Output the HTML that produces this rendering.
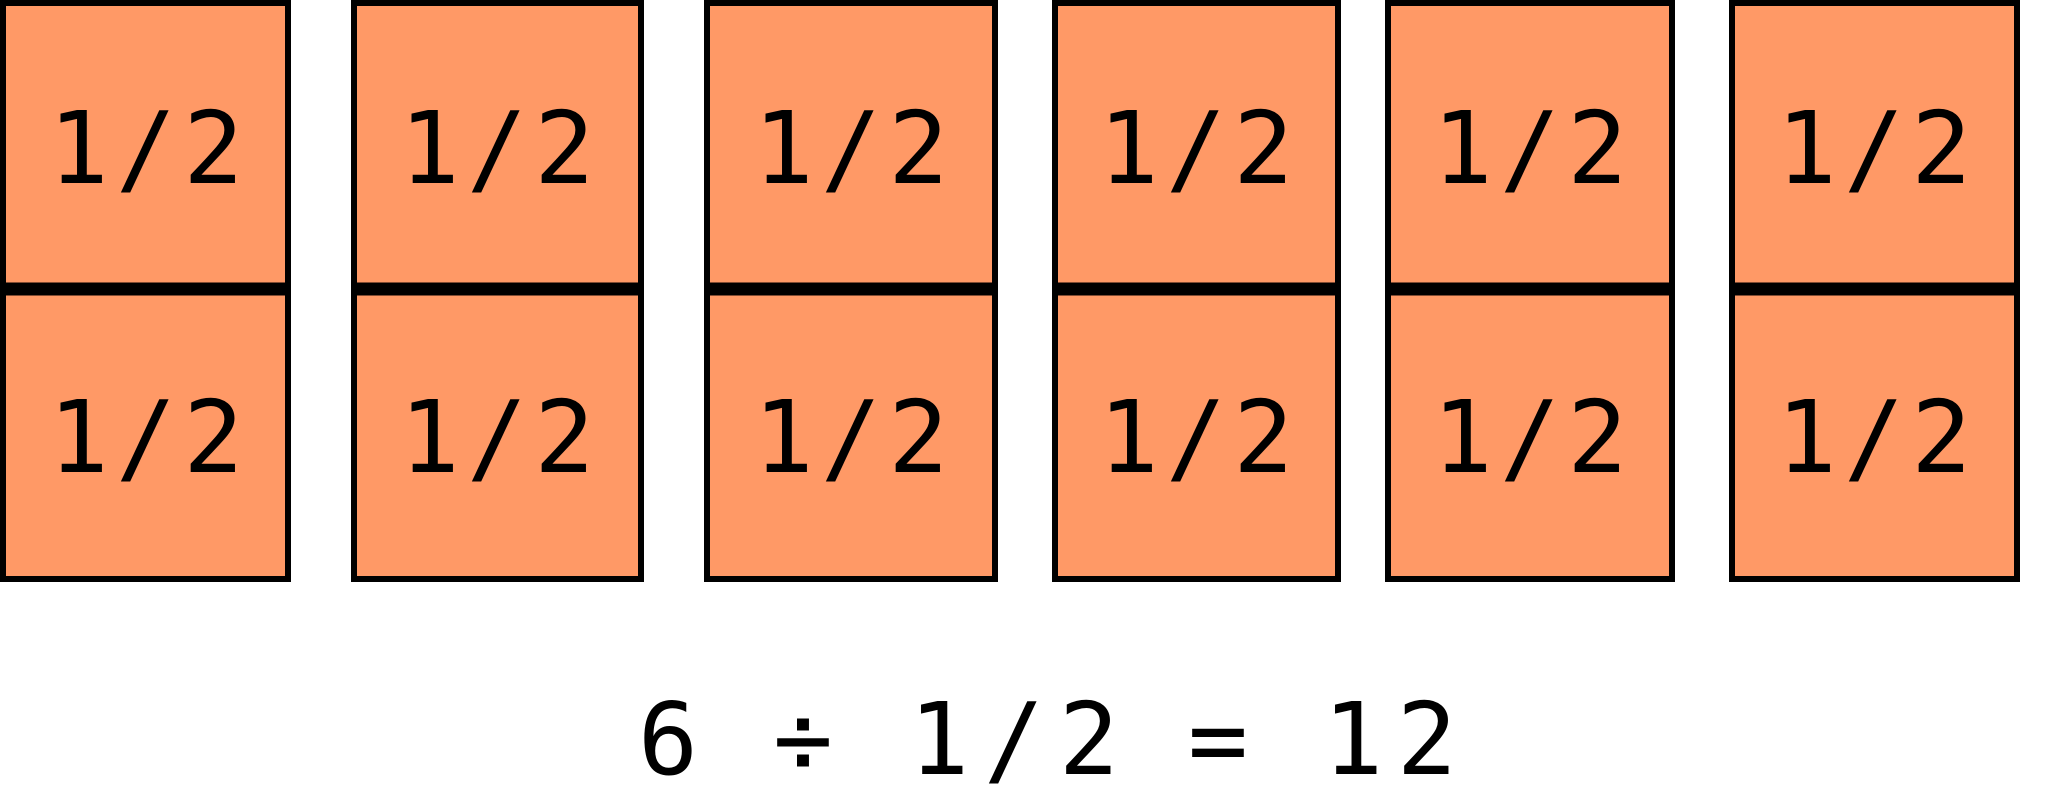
<!DOCTYPE html>
<html><head><style>html,body{margin:0;padding:0;background:#fff;}svg{display:block}</style></head>
<body>
<svg width="2048" height="794" viewBox="0 0 2048 794" xmlns="http://www.w3.org/2000/svg">
<g fill="#FF9966" stroke="#000" stroke-width="6">
<rect x="3" y="3" width="285" height="576"/>
<rect x="354" y="3" width="287" height="576"/>
<rect x="707" y="3" width="288" height="576"/>
<rect x="1055" y="3" width="283" height="576"/>
<rect x="1388" y="3" width="284" height="576"/>
<rect x="1732" y="3" width="285" height="576"/>
</g>
<g stroke="#000" stroke-width="13">
<line x1="0" y1="289" x2="291" y2="289"/>
<line x1="351" y1="289" x2="644" y2="289"/>
<line x1="704" y1="289" x2="998" y2="289"/>
<line x1="1052" y1="289" x2="1341" y2="289"/>
<line x1="1385" y1="289" x2="1675" y2="289"/>
<line x1="1729" y1="289" x2="2020" y2="289"/>
</g>
<g font-family="'DejaVu Sans Mono','Liberation Mono',monospace" font-size="100" text-anchor="middle" fill="#000">
<text x="146" y="183" textLength="195" lengthAdjust="spacing">1/2</text>
<text x="146" y="472" textLength="195" lengthAdjust="spacing">1/2</text>
<text x="497" y="183" textLength="195" lengthAdjust="spacing">1/2</text>
<text x="497" y="472" textLength="195" lengthAdjust="spacing">1/2</text>
<text x="851" y="183" textLength="195" lengthAdjust="spacing">1/2</text>
<text x="851" y="472" textLength="195" lengthAdjust="spacing">1/2</text>
<text x="1196" y="183" textLength="195" lengthAdjust="spacing">1/2</text>
<text x="1196" y="472" textLength="195" lengthAdjust="spacing">1/2</text>
<text x="1530" y="183" textLength="195" lengthAdjust="spacing">1/2</text>
<text x="1530" y="472" textLength="195" lengthAdjust="spacing">1/2</text>
<text x="1874" y="183" textLength="195" lengthAdjust="spacing">1/2</text>
<text x="1874" y="472" textLength="195" lengthAdjust="spacing">1/2</text>
<text x="668" y="774">6</text>
<text x="803" y="774">÷</text>
<text x="1014" y="774" textLength="210" lengthAdjust="spacing">1/2</text>
<text x="1218" y="774">=</text>
<text x="1390" y="774" textLength="134" lengthAdjust="spacing">12</text>
</g>
</svg>
</body></html>
